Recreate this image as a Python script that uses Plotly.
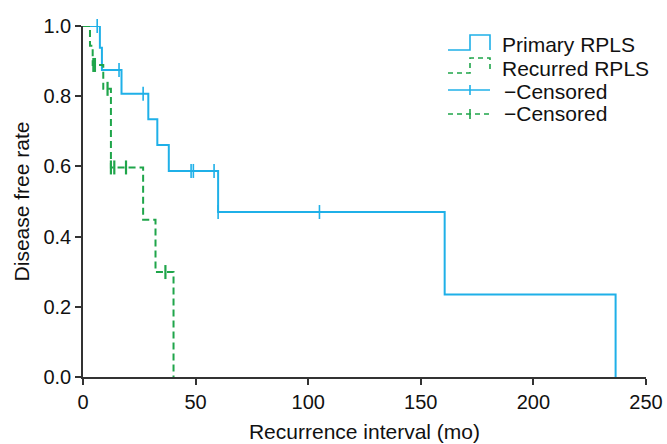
import plotly.graph_objects as go

# ---- data ----
primary_time = [0, 7.5, 8.4, 17.1, 29.0, 33.0, 38.1, 60.0, 160.6, 236.5]
primary_surv = [1.0, 0.938, 0.875, 0.807, 0.734, 0.661, 0.587, 0.470, 0.235, 0.0]
primary_cens_time = [6.3, 16.0, 26.7, 48.0, 49.0, 58.2, 60.0, 105.0]
primary_cens_surv = [1.0, 0.875, 0.807, 0.587, 0.587, 0.587, 0.470, 0.470]

recur_time = [0, 3.1, 4.3, 9.0, 12.4, 26.7, 32.2, 40.2]
recur_surv = [1.0, 0.944, 0.889, 0.821, 0.597, 0.448, 0.299, 0.0]
recur_cens_time = [4.6, 5.3, 10.9, 12.4, 13.9, 19.1, 36.6]
recur_cens_surv = [0.889, 0.889, 0.821, 0.597, 0.597, 0.597, 0.299]

x_ticks = [0, 50, 100, 150, 200, 250]
y_ticks = [0.0, 0.2, 0.4, 0.6, 0.8, 1.0]
legend_labels = ["Primary RPLS", "Recurred RPLS", "\u2212Censored", "\u2212Censored"]

BLUE = "#1fb0e8"
GREEN = "#1fa54a"
AX = "#333333"
FONT = "Arial, Liberation Sans, sans-serif"

fig = go.Figure()
fig.add_trace(go.Scatter(x=primary_time, y=primary_surv, mode="lines", line_shape="hv",
                         line=dict(color=BLUE, width=2), showlegend=False, cliponaxis=False))
fig.add_trace(go.Scatter(x=recur_time, y=recur_surv, mode="lines", line_shape="hv",
                         line=dict(color=GREEN, width=2, dash="7px,4px"), showlegend=False, cliponaxis=False))
fig.add_trace(go.Scatter(x=primary_cens_time, y=primary_cens_surv, mode="markers",
                         marker=dict(symbol="line-ns-open", size=10, color=BLUE,
                                     line=dict(color=BLUE, width=1.6)),
                         showlegend=False, cliponaxis=False))
fig.add_trace(go.Scatter(x=recur_cens_time, y=recur_cens_surv, mode="markers",
                         marker=dict(symbol="line-ns-open", size=10, color=GREEN,
                                     line=dict(color=GREEN, width=2.2)),
                         showlegend=False, cliponaxis=False))

# ---- layout geometry ----
W, H = 667, 444
L, R, T, B = 83, 21, 26, 67
pw, ph = W - L - R, H - T - B

def px(x):
    return (x - L) / pw

def py(y):
    return (H - B - y) / ph

shapes = []
# legend symbols
def step(y_low, y_high, color, dash):
    path = (f"M {px(448)},{py(y_low)} L {px(470)},{py(y_low)} L {px(470)},{py(y_high)} "
            f"L {px(490)},{py(y_high)} L {px(490)},{py(y_low)}")
    shapes.append(dict(type="path", path=path, xref="paper", yref="paper",
                       line=dict(color=color, width=1.6, dash=dash)))

def cens(y, color, dash):
    shapes.append(dict(type="line", x0=px(448), x1=px(490), y0=py(y), y1=py(y), xref="paper", yref="paper",
                       line=dict(color=color, width=1.6, dash=dash)))
    shapes.append(dict(type="line", x0=px(470), x1=px(470), y0=py(y - 5), y1=py(y + 5), xref="paper", yref="paper",
                       line=dict(color=color, width=1.6)))

step(50, 35, BLUE, "solid")
step(73, 58, GREEN, "5px,4px")
cens(90, BLUE, "solid")
cens(114, GREEN, "5px,4px")

annotations = []
for lab, yy, xx in zip(legend_labels, [44, 68, 91, 114], [500, 500, 502, 502]):
    annotations.append(dict(text=lab, x=px(xx), y=py(yy), xref="paper", yref="paper",
                            xanchor="left", yanchor="middle", showarrow=False,
                            font=dict(family=FONT, size=21, color="#111111")))

fig.update_layout(
    width=W, height=H,
    margin=dict(l=L, r=R, t=T, b=B, autoexpand=False),
    plot_bgcolor="white", paper_bgcolor="white",
    font=dict(family=FONT, size=20, color="#111111"),
    shapes=shapes, annotations=annotations,
    xaxis=dict(range=[0, 250], tickvals=x_ticks, ticks="outside", ticklen=6, tickwidth=1.5,
               tickcolor=AX, showline=True, linecolor=AX, linewidth=1.5, showgrid=False,
               zeroline=False, automargin=False,
               title=dict(text="Recurrence interval (mo)", font=dict(size=21), standoff=13),
               tickfont=dict(size=20)),
    yaxis=dict(range=[0, 1], tickvals=y_ticks, tickformat=".1f", ticks="outside", ticklen=6, tickwidth=1.5,
               tickcolor=AX, showline=True, linecolor=AX, linewidth=1.5, showgrid=False,
               zeroline=False, automargin=False,
               title=dict(text="Disease free rate", font=dict(size=21), standoff=8),
               tickfont=dict(size=20)),
)

fig.write_html("out.html", config={"displayModeBar": False},
               post_script="document.body.style.margin='0px';document.body.style.padding='0px';")
